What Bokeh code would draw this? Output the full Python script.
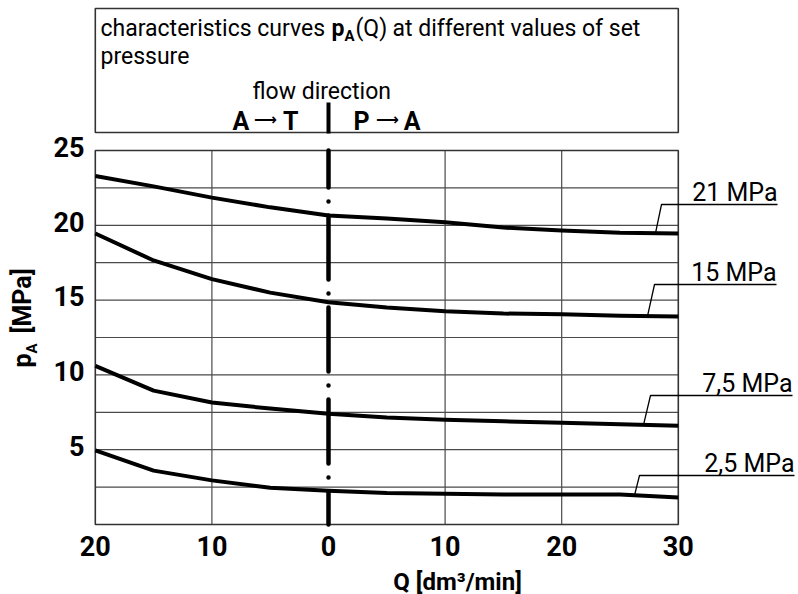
import math
import numpy as np
from bokeh.plotting import figure
from bokeh.models import Range1d
from bokeh.core.properties import value
from bokeh.embed import file_html
from bokeh.resources import INLINE

# ---------------- data ----------------
q = [-20, -15, -10, -5, 0, 5, 10, 15, 20, 25, 30]   # left half = A->T flow, right half = P->A flow
p_21 = [23.3, 22.6, 21.85, 21.2, 20.65, 20.45, 20.2, 19.85, 19.65, 19.5, 19.45]
p_15 = [19.45, 17.65, 16.4, 15.5, 14.85, 14.5, 14.25, 14.1, 14.05, 13.95, 13.9]
p_75 = [10.6, 8.95, 8.15, 7.75, 7.4, 7.15, 7.0, 6.9, 6.8, 6.7, 6.6]
p_25 = [4.95, 3.6, 2.95, 2.45, 2.25, 2.1, 2.05, 2.0, 2.0, 2.0, 1.8]
series = [p_21, p_15, p_75, p_25]
set_labels = ["21 MPa", "15 MPa", "7,5 MPa", "2,5 MPa"]
x_ticks = [-20, -10, 0, 10, 20, 30]
x_tick_labels = ["20", "10", "0", "10", "20", "30"]
y_ticks = [5, 10, 15, 20, 25]
y_tick_labels = ["5", "10", "15", "20", "25"]
y_grid = [2.5, 5, 7.5, 10, 12.5, 15, 17.5, 20, 22.5]
x_grid = [-10, 10, 20]

# ---------------- layout helpers (canvas pixels -> data) ----------------
SX = 583 / 50.0      # px per dm3/min
SY = 374 / 25.0      # px per MPa
def qx(px):
    return (px - 328) / SX
def py(pg):
    return (524 - pg) / SY

FONT = "Roboto"
ARROWFONT = "DejaVu Sans"
INK = "black"
GRID = "#4a4a4a"
DESC = 0.25   # the svg text anchor sits at the descender line: lift by this many em

p = figure(width=798, height=594, output_backend="svg", toolbar_location=None,
           x_range=Range1d(qx(0), qx(798)), y_range=Range1d(py(594), py(0)),
           x_axis_location=None, y_axis_location=None,
           min_border_left=0, min_border_right=0, min_border_top=0, min_border_bottom=0)
p.outline_line_color = None
p.grid.visible = False
p.background_fill_color = "white"
p.border_fill_color = "white"

def txt(xs, ys, texts, size, bold=False, align="left", angle=0.0, font=FONT):
    """xs, ys: data coordinates of the alphabetic baseline anchor."""
    px_size = float(size.replace("px", ""))
    d = DESC * px_size
    if angle == 0.0:
        ys = [y + d / SY for y in ys]
    else:
        xs = [x - d / SX for x in xs]
    p.text(x=xs, y=ys, text=texts, text_align=align, text_baseline="alphabetic",
           text_font=value(font), text_font_size=size,
           text_font_style="bold" if bold else "normal",
           text_color=INK, angle=angle)

def t1(xpx, ypx, text, size, **kw):
    txt([qx(xpx)], [py(ypx)], [text], size, **kw)

# tick labels (through the data scales)
txt(list(x_ticks), [py(552)] * len(x_ticks), x_tick_labels, "27px", bold=True, align="center")
txt([qx(84)] * len(y_ticks), [t - 3 / SY for t in y_ticks], y_tick_labels, "27px", bold=True, align="right")

# grid and frame
p.segment(x0=[-20] * len(y_grid), x1=[30] * len(y_grid), y0=y_grid, y1=y_grid,
          line_color=GRID, line_width=1.2)
p.segment(x0=x_grid, x1=x_grid, y0=[0] * len(x_grid), y1=[25] * len(x_grid),
          line_color=GRID, line_width=1.2)
p.quad(left=-20, right=30, bottom=0, top=25, fill_color=None, line_color="#333", line_width=1.6)

# header box
p.quad(left=-20, right=30, bottom=py(132), top=py(8), fill_color=None, line_color="#333", line_width=1.6)

# centre dash-dot line (flow direction change)
p.line([0, 0], [25, 0], line_color=INK, line_width=4.5, line_dash="64 14 0 14",
       line_dash_offset=27, line_cap="round")
p.line([0, 0], [py(133), py(102)], line_color=INK, line_width=4)

# curves
for s in series:
    p.line(q, s, line_color=INK, line_width=4, line_join="round", line_cap="butt")

# right labels with leaders
lab_geom = [  # (leader bottom x, underline y, underline left x, underline right x) in canvas px
    (655, 204, 661, 777),
    (647, 284, 654, 776),
    (643, 395, 650, 792),
    (634, 475, 639, 794),
]
for s, t, (lx, uy, ul, ur) in zip(series, set_labels, lab_geom):
    yb = float(np.interp(qx(lx), q, s))
    p.line([qx(lx), qx(ul), qx(ur)], [yb, py(uy), py(uy)], line_color=INK, line_width=1.3)
    t1(ur, uy - 6, t, "25px", align="right")

# header texts
t1(100, 34, "characteristics curves", "23px")
t1(331, 34, "p", "23px", bold=True)
t1(344, 39, "A", "15px", bold=True)
t1(355, 34, "(Q)", "23px")
t1(392, 34, "at different values of set", "23px")
t1(100, 62, "pressure", "23px")
t1(252, 97, "flow direction", "23px")
t1(232, 127, "A", "25px", bold=True)
t1(265, 123, "\u27f6", "16px", bold=True, align="center", font=ARROWFONT)
t1(298, 127, "T", "25px", bold=True, align="right")
t1(353, 127, "P", "25px", bold=True)
t1(387, 123, "\u27f6", "16px", bold=True, align="center", font=ARROWFONT)
t1(420, 127, "A", "25px", bold=True, align="right")

# axis titles
t1(457, 587, "Q [dm\u00b3/min]", "24px", bold=True, align="center")
t1(28, 367, "p", "25px", bold=True, angle=math.pi / 2)
t1(35, 353, "A", "15px", bold=True, angle=math.pi / 2)
t1(28, 333, "[MPa]", "25px", bold=True, angle=math.pi / 2)

open("out.html", "w").write(file_html(p, INLINE))
